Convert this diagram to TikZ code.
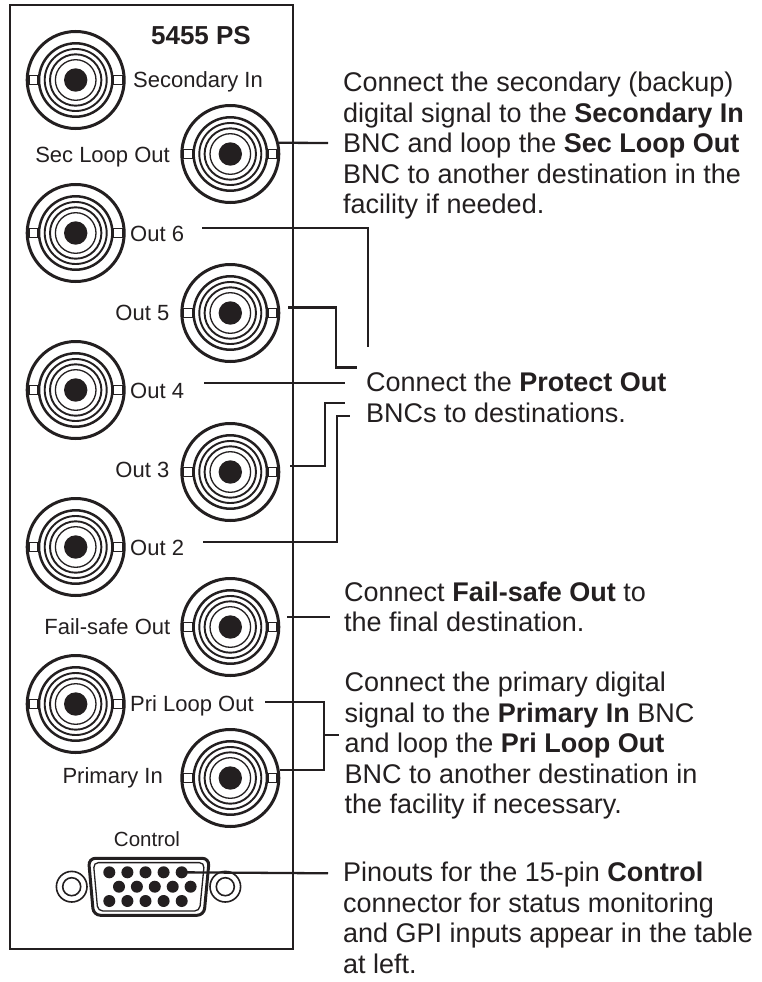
\documentclass[tikz,border=0pt]{standalone}
\usepackage{fontspec}
\setmainfont{Liberation Sans}
\usetikzlibrary{calc}
\definecolor{ink}{HTML}{231F20}
\begin{document}
\begin{tikzpicture}[x=1pt,y=-1pt,
  conn/.style={draw=ink, line width=2.3pt},
  desc/.style={anchor=north west, inner sep=0pt, align=left, text=ink, font=\fontsize{27}{30.5}\selectfont},
  plab/.style={inner sep=0pt, text=ink, font=\fontsize{22}{24}\selectfont},
  bncbody/.style={circle, draw=ink, line width=3pt, minimum size=97pt, inner sep=0pt, fill=white},
  pinstyle/.style={circle, fill=ink, minimum size=12pt, inner sep=0pt},
  screw/.style={draw=ink, line width=1.6pt},
  bnc/.pic={
    \draw[ink, line width=2.5pt] (0,0) circle (36.7pt);
    \draw[ink, line width=1.9pt] (0,0) circle (31pt);
    \draw[ink, line width=1.9pt] (0,0) circle (25.7pt);
    \draw[ink, line width=1.3pt] (0,0) circle (20.3pt);
    \fill[ink] (0,0) circle (11.7pt);
    \draw[ink, line width=1.5pt, fill=white] (-46.6,-4.7) rectangle (-37.6,4.7);
    \draw[ink, line width=1.5pt, fill=white] (37.6,-4.7) rectangle (46.6,4.7);
  }]
\useasboundingbox (0,0) rectangle (761,982);
\fill[white] (0,0) rectangle (761,982);

% panel
\draw[ink, line width=2.7pt] (10,5) rectangle (293,949);
\node[plab, anchor=base, font=\fontsize{26}{28}\selectfont\bfseries] (title) at (201,45) {5455 PS};

% BNC connectors
\foreach \nm/\xx/\yy in {sin/75.7/80, o6/75.7/233, o4/75.7/390, o2/75.7/547, plo/75.7/704,
                         slo/230.3/154, o5/230.3/313, o3/230.3/472, fso/230.3/627, pin/230.3/778}{
  \node[bncbody] (\nm) at (\xx,\yy) {};
  \pic at (\nm) {bnc};
}

% panel labels
\node[plab, anchor=base west] (sinl) at (133,87.5) {Secondary In};
\node[plab, anchor=base east] (slol) at (170,162) {Sec Loop Out};
\node[plab, anchor=base west] (o6l) at (130,241) {Out 6};
\node[plab, anchor=base east] (o5l) at (169.5,320) {Out 5};
\node[plab, anchor=base west] (o4l) at (130,398) {Out 4};
\node[plab, anchor=base east] (o3l) at (169.5,477) {Out 3};
\node[plab, anchor=base west] (o2l) at (130,555) {Out 2};
\node[plab, anchor=base east] (fsol) at (170.5,634) {Fail-safe Out};
\node[plab, anchor=base west] (plol) at (130,711) {Pri Loop Out};
\node[plab, anchor=base east] (pinl) at (163,783) {Primary In};
\node[plab, anchor=base, font=\fontsize{20.5}{22}\selectfont] (ctll) at (147,846) {Control};

% control connector
\draw[screw] (71.7,886.7) circle (15.3pt);
\draw[screw] (71.7,886.7) circle (9pt);
\draw[screw] (225.3,886.7) circle (15.3pt);
\draw[screw] (225.3,886.7) circle (9pt);
\draw[ink, line width=3pt, fill=white, rounded corners=7pt]
  (88.5,858.3) -- (209.3,858.3) -- (204,915.3) -- (93.5,915.3) -- cycle;
\draw[ink, line width=1.3pt, rounded corners=5pt]
  (93.4,862.6) -- (204.4,862.6) -- (199.6,911) -- (97.8,911) -- cycle;
\foreach \i in {0,...,4}{
  \node[pinstyle] (pa\i) at (109.3+18.1*\i,872.3) {};
  \node[pinstyle] (pb\i) at (119+17.9*\i,886.7) {};
  \node[pinstyle] (pc\i) at (109.3+18.1*\i,901) {};
}

% description texts
\node[desc] (t1) at (343,69.7) {\rule{0pt}{22pt}Connect the secondary (backup)\\
  digital signal to the \textbf{Secondary In}\\
  BNC and loop the \textbf{Sec Loop Out}\\
  BNC to another destination in the\\
  facility if needed.};
\node[desc] (t2) at (366,369.5) {\rule{0pt}{22pt}Connect the \textbf{Protect Out}\\
  BNCs to destinations.};
\node[desc] (t3) at (344,579) {\rule{0pt}{22pt}Connect \textbf{Fail-safe Out} to\\
  the final destination.};
\node[desc] (t4) at (344.5,669.7) {\rule{0pt}{22pt}Connect the primary digital\\
  signal to the \textbf{Primary In} BNC\\
  and loop the \textbf{Pri Loop Out}\\
  BNC to another destination in\\
  the facility if necessary.};
\node[desc] (t5) at (343,859.7) {\rule{0pt}{22pt}Pinouts for the 15-pin \textbf{Control}\\
  connector for status monitoring\\
  and GPI inputs appear in the table\\
  at left.};

% connector end points
\coordinate (c1) at (328,143);
\coordinate (c6a) at (202,228);
\coordinate (c6b) at (368,347);
\coordinate (c5a) at (288,307.5);
\coordinate (c5b) at (357,367.5);
\coordinate (c4a) at (204,383);
\coordinate (c4b) at (345,383);
\coordinate (c3a) at (290,466);
\coordinate (c3b) at (345,403);
\coordinate (c2a) at (203,542);
\coordinate (c2b) at (350,416);
\coordinate (cfa) at (287,617.3);
\coordinate (cfb) at (330,617.3);
\coordinate (cpa) at (265,702.3);
\coordinate (cpt) at (338.5,735);
\coordinate (cc) at (328,873.3);

% connectors
\draw[conn] (slo.13) -- (c1);
\draw[conn] (c6a) -| (c6b);
\draw[conn] (c5a) -- (336,307.5) |- (c5b);
\draw[conn] (c4a) -- (c4b);
\draw[conn] (c3a) -- (325,466) |- (c3b);
\draw[conn] (c2a) -- (337,542) |- (c2b);
\draw[conn] (cfa) -- (cfb);
\draw[conn] (cpa) -- (324,702.3) |- (pin.9);
\draw[conn] (324,735) -- (cpt);
\draw[conn] (pa4.center) -- (cc);
\end{tikzpicture}
\end{document}
